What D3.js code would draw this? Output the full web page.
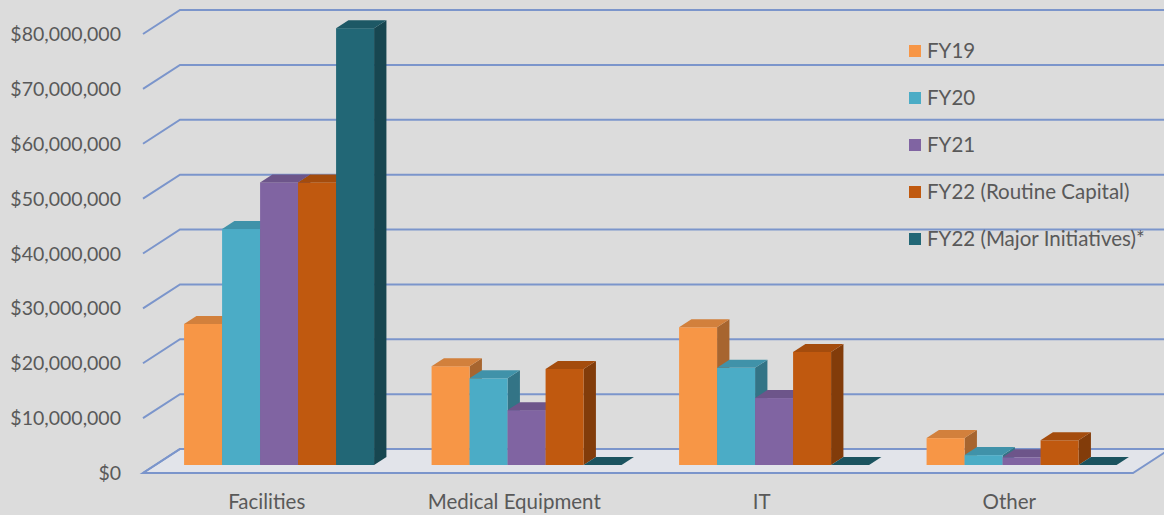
<!DOCTYPE html>
<html>
<head>
<meta charset="utf-8">
<script src="https://cdn.jsdelivr.net/npm/d3@7"></script>
<style>
  html, body { margin: 0; padding: 0; background: #dcdcdc; }
  svg { display: block; }
  text { font-family: Lato, "Open Sans", sans-serif; fill: #595959; }
</style>
</head>
<body>
<svg id="chart" width="1164" height="515"></svg>
<script>
// Capital spending by category and fiscal year
const categories = ["Facilities", "Medical Equipment", "IT", "Other"];
const seriesNames = ["FY19", "FY20", "FY21", "FY22 (Routine Capital)", "FY22 (Major Initiatives)*"];
const seriesColors = ["#f79646", "#4bacc6", "#8064a2", "#c0590f", "#226776"];
const fy19 = [25700000, 18000000, 25100000, 4900000];
const fy20 = [43000000, 15800000, 17700000, 1800000];
const fy21 = [51500000, 10000000, 12200000, 1400000];
const fy22Routine = [51500000, 17500000, 20600000, 4500000];
const fy22Major = [79600000, 0, 0, 0];
const seriesValues = [fy19, fy20, fy21, fy22Routine, fy22Major];
const yTicks = [0, 10000000, 20000000, 30000000, 40000000, 50000000, 60000000, 70000000, 80000000];

const W = 1164, H = 515;
const svg = d3.select("#chart");

// front plane of the plot box and the depth of the floor
const left = 143, right = 1133;
const depthX = 37, depthY = -24;
const barDX = depthX / 3, barDY = depthY / 3;

const y = d3.scaleLinear().domain([0, 80000000]).range([473, 34]);
const x0 = d3.scaleBand().domain(categories).range([left, right]).padding(0);
const groupWidth = 190;
const x1 = d3.scaleBand().domain(seriesNames).range([0, groupWidth]).padding(0);

svg.append("rect").attr("width", W).attr("height", H).attr("fill", "#dcdcdc");

const gridColor = "#7b95cb";

// floor
const floorY = y(0);
svg.append("polygon")
  .attr("points", [[left, floorY], [right, floorY], [right + depthX, floorY + depthY], [left + depthX, floorY + depthY]].map(p => p.join(",")).join(" "))
  .attr("fill", "#e2e4ea")
  .attr("stroke", gridColor)
  .attr("stroke-width", 2);

// gridlines: short diagonal from the front edge, then across the back wall
const grid = svg.append("g");
yTicks.forEach(t => {
  const yf = y(t);
  grid.append("polyline")
    .attr("points", `${left},${yf} ${left + depthX},${yf + depthY} ${W + 5},${yf + depthY}`)
    .attr("fill", "none")
    .attr("stroke", gridColor)
    .attr("stroke-width", 2);
});

// y tick labels
const fmt = d => "$" + d3.format(",")(d);
svg.append("g").selectAll("text").data(yTicks).join("text")
  .attr("x", 121)
  .attr("y", d => y(d))
  .attr("dy", "0.36em")
  .attr("text-anchor", "end")
  .attr("font-size", 19.5)
  .text(fmt);

// bars as 3D boxes sitting in the middle third of the floor depth
const bars = svg.append("g");
categories.forEach((cat, ci) => {
  const gx = x0(cat) + (x0.bandwidth() - groupWidth) / 2 + barDX;
  seriesNames.forEach((s, si) => {
    const v = seriesValues[si][ci];
    const c = d3.color(seriesColors[si]);
    const xl = gx + x1(s);
    const w = x1.bandwidth();
    const yb = y(0) + barDY;
    const yt = y(v) + barDY;
    const g = bars.append("g");
    // side face
    g.append("polygon")
      .attr("points", [[xl + w, yt], [xl + w + barDX, yt + barDY], [xl + w + barDX, yb + barDY], [xl + w, yb]].map(p => p.join(",")).join(" "))
      .attr("fill", c.darker(1.1));
    // front face
    g.append("rect")
      .attr("x", xl).attr("y", yt)
      .attr("width", w).attr("height", Math.max(0, yb - yt))
      .attr("fill", c);
    // top face
    g.append("polygon")
      .attr("points", [[xl, yt], [xl + w, yt], [xl + w + barDX, yt + barDY], [xl + barDX, yt + barDY]].map(p => p.join(",")).join(" "))
      .attr("fill", v === 0 ? c.darker(0.6) : c.darker(0.45));
  });
});

// category labels
svg.append("g").selectAll("text").data(categories).join("text")
  .attr("x", d => x0(d) + x0.bandwidth() / 2)
  .attr("y", 502)
  .attr("dy", "0.36em")
  .attr("text-anchor", "middle")
  .attr("font-size", 20.5)
  .text(d => d);

// legend
const legend = svg.append("g");
seriesNames.forEach((s, i) => {
  const ly = 51 + i * 47;
  legend.append("rect")
    .attr("x", 909).attr("y", ly - 6)
    .attr("width", 12).attr("height", 12)
    .attr("fill", seriesColors[i]);
  legend.append("text")
    .attr("x", 927).attr("y", ly)
    .attr("dy", "0.36em")
    .attr("font-size", 20.5)
    .text(s);
});
</script>
</body>
</html>
